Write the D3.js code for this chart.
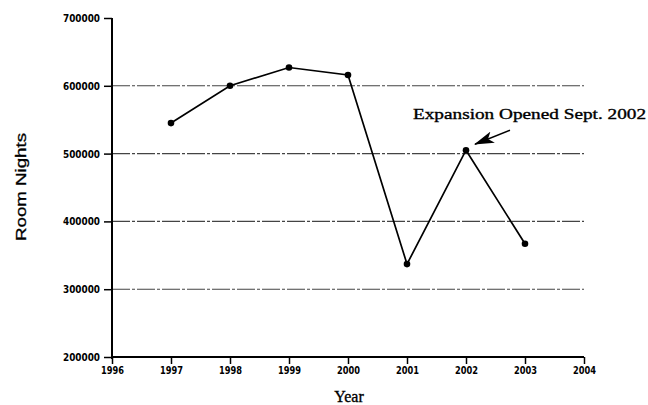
<!DOCTYPE html>
<html>
<head>
<meta charset="utf-8">
<script src="https://cdn.jsdelivr.net/npm/d3@7"></script>
<style>
  body { margin: 0; background: #fff; }
  svg { display: block; }
</style>
</head>
<body>
<div id="chart"></div>
<script>
// data
const years = [1997, 1998, 1999, 2000, 2001, 2002, 2003];
const roomNights = [545000, 600000, 627000, 616000, 337000, 505000, 367000];
const yTicks = [200000, 300000, 400000, 500000, 600000, 700000];
const gridValues = [300000, 400000, 500000, 600000];
const xTicks = [1996, 1997, 1998, 1999, 2000, 2001, 2002, 2003, 2004];
const note = { year: 2002, text: "Expansion Opened Sept. 2002" };

const width = 648, height = 405;

const svg = d3.select("#chart")
    .append("svg")
    .attr("width", width)
    .attr("height", height);

const x = d3.scaleLinear().domain([1996, 2004]).range([112, 584]);
const y = d3.scaleLinear().domain([200000, 700000]).range([357, 18]);

// arrow marker for the note
svg.append("defs").append("marker")
    .attr("id", "arrow")
    .attr("viewBox", "0 0 20 12")
    .attr("refX", 19)
    .attr("refY", 6)
    .attr("markerWidth", 20)
    .attr("markerHeight", 12)
    .attr("markerUnits", "userSpaceOnUse")
    .attr("orient", "auto")
    .append("path")
    .attr("d", "M0,0 L20,6 L0,12 L5,6 Z")
    .attr("fill", "#000");

// dash-dot grid lines
svg.append("g")
    .selectAll("line")
    .data(gridValues)
    .join("line")
    .attr("x1", x(1996))
    .attr("x2", x(2004))
    .attr("y1", d => y(d))
    .attr("y2", d => y(d))
    .attr("stroke", "#444")
    .attr("stroke-width", 1.1)
    .attr("stroke-dasharray", "18,2,3,2");

// y axis
const yAxis = svg.append("g")
    .attr("transform", `translate(${x(1996)},0)`)
    .call(d3.axisLeft(y).tickValues(yTicks).tickFormat(d3.format("d")).tickSize(8).tickPadding(4));

// x axis
const xAxis = svg.append("g")
    .attr("transform", `translate(0,${y(200000)})`)
    .call(d3.axisBottom(x).tickValues(xTicks).tickFormat(d3.format("d")).tickSize(7).tickPadding(2));

[yAxis, xAxis].forEach(a => {
    a.select(".domain").attr("stroke", "#000").attr("stroke-width", 2);
    a.selectAll(".tick line").attr("stroke", "#000").attr("stroke-width", 1.5);
    a.selectAll(".tick text")
        .attr("fill", "#000")
        .style("font-family", "'Liberation Sans Narrow', 'DejaVu Sans Condensed', sans-serif")
        .style("font-size", "11px")
        .style("font-weight", "bold");
});
yAxis.select(".domain").attr("d", `M0,${y(700000)}V${y(200000) + 2}`);
yAxis.selectAll(".tick text").attr("textLength", 37).attr("lengthAdjust", "spacingAndGlyphs");
xAxis.select(".domain").attr("d", `M${x(1996)},0H${x(2004)}`);
xAxis.selectAll(".tick text").attr("textLength", 23).attr("lengthAdjust", "spacingAndGlyphs");

// data line
const line = d3.line()
    .x((d, i) => x(years[i]))
    .y(d => y(d));

svg.append("path")
    .datum(roomNights)
    .attr("fill", "none")
    .attr("stroke", "#000")
    .attr("stroke-width", 1.7)
    .attr("d", line);

svg.append("g")
    .selectAll("circle")
    .data(roomNights)
    .join("circle")
    .attr("cx", (d, i) => x(years[i]))
    .attr("cy", d => y(d))
    .attr("r", 3.3)
    .attr("fill", "#000");

// annotation
const noteVal = roomNights[years.indexOf(note.year)];
svg.append("line")
    .attr("x1", x(note.year) + 44)
    .attr("y1", y(noteVal) - 20)
    .attr("x2", x(note.year) + 9)
    .attr("y2", y(noteVal) - 6)
    .attr("stroke", "#000")
    .attr("stroke-width", 1.5)
    .attr("marker-end", "url(#arrow)");

svg.append("text")
    .attr("x", 413)
    .attr("y", 119)
    .attr("textLength", 233)
    .attr("lengthAdjust", "spacingAndGlyphs")
    .attr("stroke", "#000")
    .attr("stroke-width", 0.35)
    .style("font-family", "'Liberation Serif', 'DejaVu Serif', serif")
    .style("font-size", "15px")
    .text(note.text);

// axis titles
svg.append("text")
    .attr("x", 349)
    .attr("y", 402)
    .attr("text-anchor", "middle")
    .attr("stroke", "#000")
    .attr("stroke-width", 0.35)
    .style("font-family", "'Liberation Serif', 'DejaVu Serif', serif")
    .style("font-size", "16px")
    .text("Year");

svg.append("text")
    .attr("transform", "translate(26,187) rotate(-90)")
    .attr("text-anchor", "middle")
    .attr("textLength", 108)
    .attr("lengthAdjust", "spacingAndGlyphs")
    .attr("stroke", "#000")
    .attr("stroke-width", 0.3)
    .style("font-family", "'Liberation Sans', 'DejaVu Sans', sans-serif")
    .style("font-size", "15px")
    .text("Room Nights");
</script>
</body>
</html>
